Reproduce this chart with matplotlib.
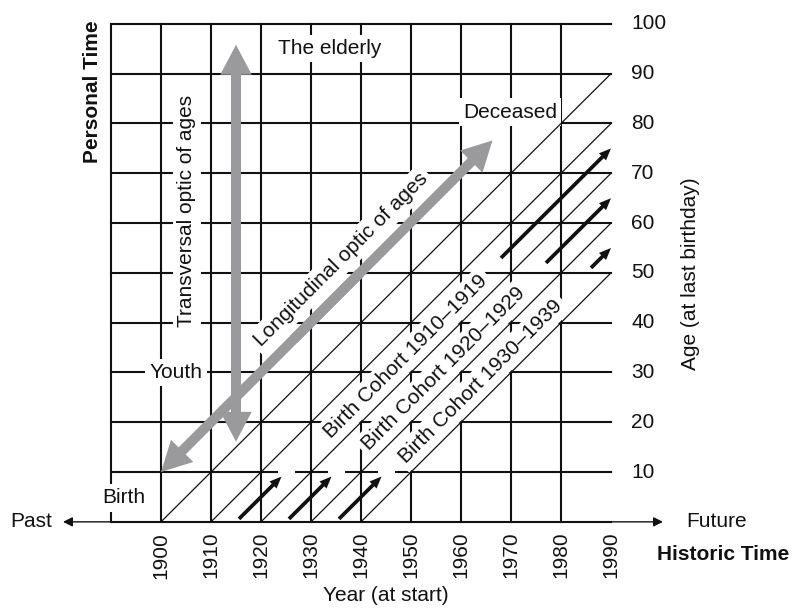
import matplotlib.pyplot as plt

plt.rcParams['font.family'] = ['Liberation Sans', 'DejaVu Sans']
plt.rcParams['font.size'] = 15

# ----------------------------
# Data
# ----------------------------
tick_years = [1900, 1910, 1920, 1930, 1940, 1950, 1960, 1970, 1980, 1990]
tick_ages = [10, 20, 30, 40, 50, 60, 70, 80, 90, 100]
grid_years = [1890, 1900, 1910, 1920, 1930, 1940, 1950, 1960, 1970, 1980]
cohort_starts = [1900, 1910, 1920, 1930, 1940]

cohort_labels = ['Birth Cohort 1910\u20131919', 'Birth Cohort 1920\u20131929',
                 'Birth Cohort 1930\u20131939']
cohort_mid = [1915, 1925, 1935]
label_years = [1949, 1956.5, 1964]

# black arrows along the cohorts (ages)
early_from, early_to = 0.6, 9.1
late_from = [53, 52, 51]
late_to = [75, 65, 55]

# gray double arrows (year, age)
transversal = [(1915, 16.1), (1915, 95.8)]
longitudinal = [(1900, 10), (1966.3, 76.6)]

black = '#111111'
gray = '#9a9a9d'
box = dict(boxstyle='square,pad=0.2', fc='white', ec='none')

fig = plt.figure(figsize=(7.92, 6.10), dpi=100)
ax = fig.add_axes([0, 0, 1, 1])
ax.set_xlim(1867.8, 2026.2)
ax.set_ylim(-17.7, 104.8)
ax.axis('off')

# grid
for y in grid_years:
    ax.plot([y, y], [0, 100], color=black, lw=1.5, zorder=1)
for a in tick_ages:
    ax.plot([1890, 1990], [a, a], color=black, lw=1.5, zorder=1)
ax.plot([1890, 1990], [0, 0], color=black, lw=1.5, zorder=1)

# gaps in the age 10 line where the cohorts pass
for m in cohort_mid:
    ax.plot([m + 10 - 1.7, m + 10 + 1.7], [10, 10], color='white', lw=4,
            solid_capstyle='butt', zorder=1.2)

# historic time axis arrows
ax.annotate('', xy=(1880.4, 0), xytext=(1890, 0),
            arrowprops=dict(arrowstyle='-|>', color=black, lw=1, mutation_scale=14,
                            shrinkA=0, shrinkB=0))
ax.annotate('', xy=(2000.4, 0), xytext=(1990, 0),
            arrowprops=dict(arrowstyle='-|>', color=black, lw=1, mutation_scale=14,
                            shrinkA=0, shrinkB=0))

# cohort diagonals
for b in cohort_starts:
    ax.plot([b, 1990], [0, 1990 - b], color=black, lw=0.9, zorder=2.5)


def fat_arrow(p0, p1):
    # two halves that overlap in the middle so no seam shows
    for a, b in ((p0, p1), (p1, p0)):
        sx = a[0] + 0.6 * (b[0] - a[0])
        sy = a[1] + 0.6 * (b[1] - a[1])
        ax.arrow(sx, sy, a[0] - sx, a[1] - sy, width=2.0, head_width=6.3,
                 head_length=6.0, length_includes_head=True, color=gray,
                 lw=0, zorder=3)


fat_arrow(*transversal)
fat_arrow(*longitudinal)

# black cohort arrows
for i, m in enumerate(cohort_mid):
    ax.arrow(m + early_from, early_from, early_to - early_from, early_to - early_from,
             width=0.75, head_width=2.0, head_length=2.4, length_includes_head=True,
             color=black, lw=0, zorder=4)
    ax.arrow(m + late_from[i], late_from[i], late_to[i] - late_from[i],
             late_to[i] - late_from[i], width=0.75, head_width=2.0, head_length=2.4,
             length_includes_head=True, color=black, lw=0, zorder=4)

# cohort labels
for lab, m, yr in zip(cohort_labels, cohort_mid, label_years):
    ax.text(yr, yr - m - 0.8, lab, rotation=45, rotation_mode='anchor',
            ha='center', va='center', color=black, bbox=box, zorder=2)

# annotations
ax.text(1933.8, 95, 'The elderly', ha='center', va='center', color=black,
        bbox=box, zorder=2)
ax.text(1969.8, 82.3, 'Deceased', ha='center', va='center', color=black,
        bbox=box, zorder=2)
ax.text(1905.2, 62.4, 'Transversal optic of ages', rotation=90, ha='center',
        va='center', color=black, bbox=box, zorder=2)
ax.text(1936, 52.6, 'Longitudinal optic of ages', rotation=45, rotation_mode='anchor',
        ha='center', va='center', color=black, bbox=box, zorder=2)
ax.text(1903, 30, 'Youth', ha='center', va='center', color=black, bbox=box, zorder=2)
ax.text(1892.5, 4.8, 'Birth', ha='center', va='center', color=black, bbox=box, zorder=2)

# tick labels
for a in tick_ages:
    ax.text(1994.0, a, str(a), ha='left', va='center', color=black)
for y in tick_years:
    ax.text(y, -2.0, str(y), rotation=90, ha='center', va='top', color=black)

# axis titles
ax.text(1886.2, 86.3, 'Personal Time', rotation=90, ha='center', va='center',
        fontweight='bold', color=black)
ax.text(2005.8, 49.8, 'Age (at last birthday)', rotation=90, ha='center',
        va='center', color=black)
ax.text(1874.0, 0, 'Past', ha='center', va='center', color=black)
ax.text(2005.0, 0, 'Future', ha='left', va='center', color=black)
ax.text(2012.4, -6.6, 'Historic Time', ha='center', va='center',
        fontweight='bold', color=black)
ax.text(1945, -14.7, 'Year (at start)', ha='center', va='center', color=black)

fig.savefig('out.png', dpi=100)
